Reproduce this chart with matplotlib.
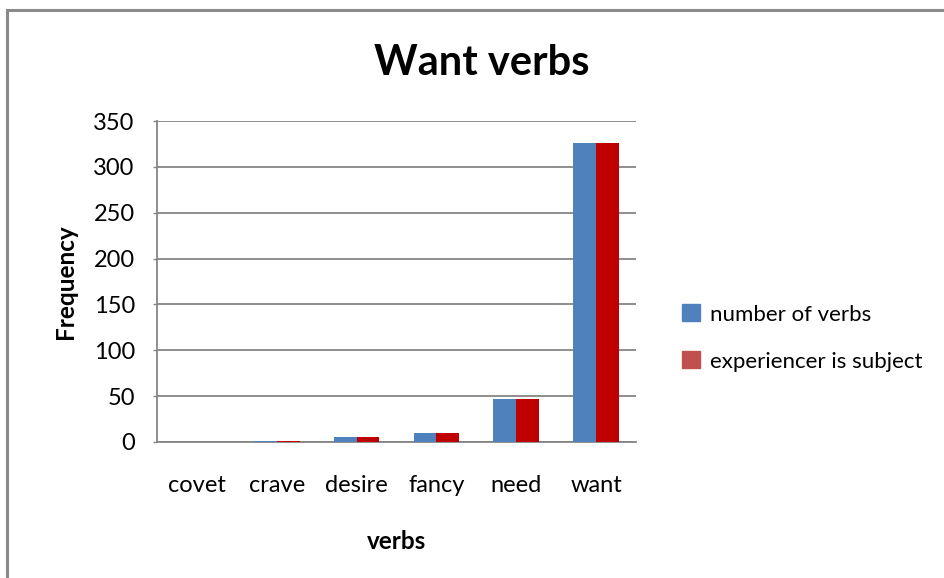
import numpy as np
import matplotlib.pyplot as plt
from matplotlib.patches import Patch, Rectangle

plt.rcParams['font.family'] = ['Lato', 'DejaVu Sans']

verbs = ["covet", "crave", "desire", "fancy", "need", "want"]
number_of_verbs = [0, 1, 5, 10, 47, 326]
experiencer_subject = [0, 1, 5, 10, 47, 326]
series_labels = ["number of verbs", "experiencer is subject"]

blue = "#4F81BD"
red = "#C00000"
red_legend = "#C0504D"
gray = "#868686"

fig = plt.figure(figsize=(9.45, 5.78), dpi=100)
ax = fig.add_axes([157 / 945, 1 - 442 / 578, (636 - 157) / 945, (442 - 121) / 578])

x = np.arange(len(verbs))
w = 0.286
ax.bar(x - w / 2, number_of_verbs, w, color=blue, zorder=3)
ax.bar(x + w / 2, experiencer_subject, w, color=red, zorder=3)

ax.set_xlim(-0.5, len(verbs) - 0.5)
ax.set_ylim(0, 350)
ax.set_yticks(np.arange(0, 351, 50))
ax.set_xticks(x)
ax.set_xticklabels(verbs)
ax.yaxis.grid(True, color=gray, linewidth=1.3, zorder=0)
ax.set_axisbelow(True)

for s in ["top", "right"]:
    ax.spines[s].set_visible(False)
for s in ["left", "bottom"]:
    ax.spines[s].set_color(gray)
    ax.spines[s].set_linewidth(1.3)

ax.tick_params(axis="x", length=0, pad=24, labelsize=17, colors="#000000")
ax.tick_params(axis="y", length=3, width=1, color=gray, pad=13, labelsize=17)

ax.set_xlabel("verbs", fontsize=17.5, fontweight="bold", labelpad=24)
ax.set_ylabel("Frequency", fontsize=17.5, fontweight="bold", labelpad=12)

fig.text(482 / 945, 1 - 63 / 578, "Want verbs", fontsize=30, fontweight="bold",
         ha="center", va="center")

handles = [Patch(color=blue), Patch(color=red_legend)]
fig.legend(handles, series_labels, loc="center left",
           bbox_to_anchor=(662 / 945, 1 - 338 / 578), frameon=False,
           fontsize=16, handlelength=0.8, handleheight=0.8,
           handletextpad=0.45, labelspacing=1.2)

# outer chart border
fig.patches.append(Rectangle((7 / 945, -0.05), 1.0, 1 - 10 / 578 + 0.05,
                             transform=fig.transFigure, fill=False,
                             edgecolor="#8A8A8A", linewidth=2.2))

fig.savefig("out.png", dpi=100)
